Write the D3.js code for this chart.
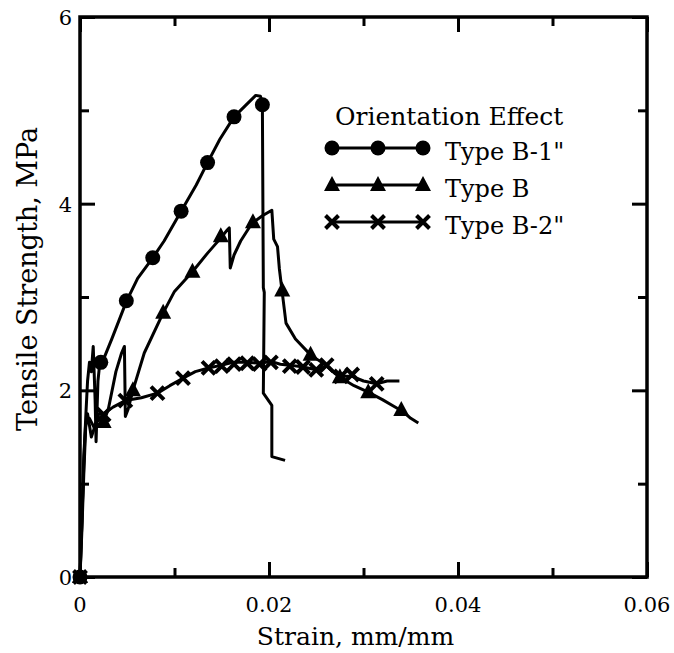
<!DOCTYPE html>
<html>
<head>
<meta charset="utf-8">
<script src="https://cdn.jsdelivr.net/npm/d3@7"></script>
<style>
body { margin: 0; background: #fff; }
</style>
</head>
<body>
<div id="chart"></div>
<script>
// values: [strain, stress]
var typeB1 = [[0,0],[0.0002,0.6],[0.0004,1.2],[0.0006,1.7],[0.0008,2.1],[0.0010,2.3],[0.0012,2.2],[0.0014,2.47],[0.0016,1.9],[0.0017,1.45],[0.0019,2.1],[0.0021,2.3],[0.0024,2.31],[0.0034,2.56],[0.0049,2.95],[0.0061,3.2],[0.0077,3.42],[0.0089,3.6],[0.0107,3.92],[0.0123,4.2],[0.0135,4.44],[0.0148,4.69],[0.0163,4.93],[0.0175,5.05],[0.0186,5.16],[0.0191,5.15],[0.0193,5.06],[0.0194,3.1],[0.0195,3.05],[0.0194,1.97],[0.0203,1.84],[0.0203,1.29],[0.0217,1.25]];
var typeB1Marks = [[0,0],[0.0022,2.3],[0.0049,2.96],[0.0077,3.42],[0.0107,3.92],[0.0135,4.44],[0.0163,4.93],[0.0193,5.06]];

var typeB = [[0,0],[0.0002,0.5],[0.0004,1.1],[0.0006,1.6],[0.0008,1.75],[0.0012,1.5],[0.0016,1.62],[0.0025,1.66],[0.0030,1.8],[0.0038,2.2],[0.0044,2.4],[0.0047,2.47],[0.0048,1.72],[0.0051,1.8],[0.0056,2.0],[0.0068,2.4],[0.0088,2.83],[0.0100,3.06],[0.0119,3.27],[0.0135,3.47],[0.0148,3.62],[0.0156,3.72],[0.0158,3.74],[0.0159,3.31],[0.0163,3.45],[0.0170,3.6],[0.0182,3.79],[0.0193,3.87],[0.0203,3.93],[0.0205,3.62],[0.0209,3.54],[0.0211,3.3],[0.0214,3.05],[0.0218,2.72],[0.0228,2.55],[0.0244,2.38],[0.0260,2.27],[0.0275,2.14],[0.0290,2.05],[0.0305,1.98],[0.0320,1.9],[0.0332,1.83],[0.0342,1.77],[0.0350,1.7],[0.0358,1.65]];
var typeBMarks = [[0,0],[0.0025,1.66],[0.0056,2.0],[0.0088,2.83],[0.0119,3.27],[0.0149,3.65],[0.0183,3.8],[0.0214,3.07],[0.0244,2.38],[0.0275,2.14],[0.0305,1.98],[0.0340,1.79]];

var typeB2 = [[0,0],[0.0002,0.6],[0.0004,1.3],[0.0006,1.65],[0.0010,1.7],[0.0015,1.6],[0.0020,1.75],[0.0025,1.75],[0.0035,1.82],[0.0048,1.89],[0.0065,1.92],[0.0082,1.97],[0.0095,2.05],[0.0109,2.13],[0.0122,2.2],[0.0136,2.24],[0.0150,2.27],[0.0162,2.3],[0.0177,2.3],[0.0190,2.29],[0.0202,2.31],[0.0212,2.28],[0.0222,2.27],[0.0236,2.25],[0.0250,2.22],[0.0261,2.26],[0.0270,2.18],[0.0276,2.15],[0.0288,2.15],[0.0300,2.1],[0.0314,2.07],[0.0325,2.1],[0.0338,2.1]];
var typeB2Marks = [[0,0],[0.0025,1.74],[0.0048,1.89],[0.0082,1.97],[0.0109,2.13],[0.0136,2.24],[0.0150,2.26],[0.0163,2.28],[0.0177,2.29],[0.0190,2.28],[0.0202,2.3],[0.0222,2.26],[0.0236,2.25],[0.0250,2.22],[0.0261,2.27],[0.0276,2.15],[0.0288,2.17],[0.0314,2.07]];

var xTicks = [0, 0.02, 0.04, 0.06];
var xMinor = [0.01, 0.03, 0.05];
var yTicks = [0, 2, 4, 6];
var yMinor = [1, 3, 5];
var legendTitle = "Orientation Effect";
var seriesNames = ["Type B-1\"", "Type B", "Type B-2\""];

// Liberation Serif is not found here, DejaVu Serif is
var FONT = "'DejaVu Serif', serif";

// size of the picture and the plot frame
var W = 674, H = 653;
var margin = {top: 17, right: 27, bottom: 76, left: 80},
    width = W - margin.left - margin.right,
    height = H - margin.top - margin.bottom;

var svg = d3.select("#chart").append("svg")
    .attr("width", W)
    .attr("height", H)
    .attr("font-family", FONT)
  .append("g")
    .attr("transform", "translate(" + margin.left + "," + margin.top + ")");

var x = d3.scaleLinear().domain([0, 0.06]).range([0, width]);
var y = d3.scaleLinear().domain([0, 6]).range([height, 0]);

var line = d3.line()
    .x(function(d) { return x(d[0]); })
    .y(function(d) { return y(d[1]); });

// ticks on all four sides, pointing inward
function addTicks(axis, vals, len, transform) {
  svg.append("g")
      .attr("transform", transform)
      .call(axis.tickValues(vals).tickSizeInner(-len).tickSizeOuter(0).tickFormat(""))
      .call(function(g) { g.select(".domain").remove(); })
      .selectAll("line").attr("stroke", "#000").attr("stroke-width", 3);
}
addTicks(d3.axisBottom(x), xTicks, 15, "translate(0," + height + ")");
addTicks(d3.axisBottom(x), xMinor, 9, "translate(0," + height + ")");
addTicks(d3.axisTop(x), xTicks, 15, "translate(0,0)");
addTicks(d3.axisTop(x), xMinor, 9, "translate(0,0)");
addTicks(d3.axisLeft(y), yTicks, 15, "translate(0,0)");
addTicks(d3.axisLeft(y), yMinor, 9, "translate(0,0)");
addTicks(d3.axisRight(y), yTicks, 15, "translate(" + width + ",0)");
addTicks(d3.axisRight(y), yMinor, 9, "translate(" + width + ",0)");

// frame
svg.append("rect")
    .attr("width", width)
    .attr("height", height)
    .attr("fill", "none")
    .attr("stroke", "#000")
    .attr("stroke-width", 3.5);

function label(g, px, py, str, size, anchor) {
  return g.append("text")
      .attr("x", px)
      .attr("y", py)
      .attr("text-anchor", anchor)
      .style("font-family", FONT)
      .style("font-size", size + "px")
      .attr("fill", "#000")
      .text(str);
}

// tick labels
xTicks.forEach(function(d) { label(svg, x(d), height + 35, d, 21, "middle"); });
yTicks.forEach(function(d) { label(svg, -8, y(d) + 8, d, 21, "end"); });

// axis titles
label(svg, width / 2 - 8, height + 68, "Strain, mm/mm", 25, "middle");
svg.append("text")
    .attr("transform", "translate(-43," + (height / 2 - 18) + ") rotate(-90)")
    .attr("text-anchor", "middle")
    .style("font-family", FONT)
    .style("font-size", "27px")
    .text("Tensile Strength, MPa");

// marker shapes
function drawMarks(g, pts, kind) {
  if (kind === "circle") {
    g.selectAll("circle").data(pts).enter().append("circle")
        .attr("cx", function(d) { return d[0]; })
        .attr("cy", function(d) { return d[1]; })
        .attr("r", 7.5)
        .attr("fill", "#000");
  } else if (kind === "triangle") {
    g.selectAll("path").data(pts).enter().append("path")
        .attr("transform", function(d) { return "translate(" + d[0] + "," + (d[1] - 1) + ")"; })
        .attr("d", "M0,-8L8,7L-8,7Z")
        .attr("fill", "#000");
  } else {
    g.selectAll("path").data(pts).enter().append("path")
        .attr("transform", function(d) { return "translate(" + d[0] + "," + d[1] + ")"; })
        .attr("d", "M-6.5,-6.5L6.5,6.5M-6.5,6.5L6.5,-6.5")
        .attr("stroke", "#000")
        .attr("stroke-width", 4);
  }
}

var series = [
  {name: seriesNames[0], values: typeB1, marks: typeB1Marks, kind: "circle"},
  {name: seriesNames[1], values: typeB, marks: typeBMarks, kind: "triangle"},
  {name: seriesNames[2], values: typeB2, marks: typeB2Marks, kind: "cross"}
];

series.forEach(function(s) {
  svg.append("path")
      .datum(s.values)
      .attr("fill", "none")
      .attr("stroke", "#000")
      .attr("stroke-width", 3)
      .attr("stroke-linejoin", "round")
      .attr("d", line);
  drawMarks(svg.append("g"), s.marks.map(function(d) { return [x(d[0]), y(d[1])]; }), s.kind);
});

// legend
var legend = svg.append("g").attr("transform", "translate(252,0)");
label(legend, 3, 108, legendTitle, 25, "start");

series.forEach(function(s, i) {
  var ly = 131 + i * 37;
  legend.append("line")
      .attr("x1", 0).attr("x2", 91)
      .attr("y1", ly).attr("y2", ly)
      .attr("stroke", "#000")
      .attr("stroke-width", 3);
  drawMarks(legend.append("g"), [[0, ly], [46, ly], [91, ly]], s.kind);
  label(legend, 113, ly + 12, s.name, 24, "start");
});
</script>
</body>
</html>
